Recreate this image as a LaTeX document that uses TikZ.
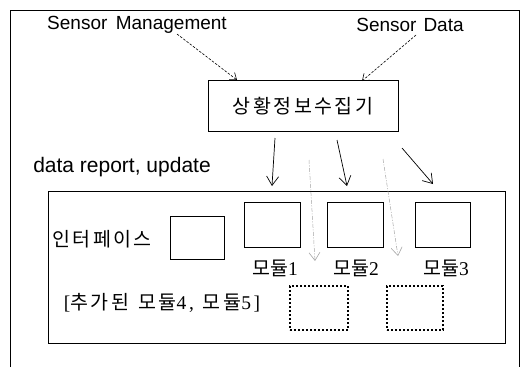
\documentclass[tikz,border=0pt]{standalone}
\usepackage{fontspec}
\setmainfont{Liberation Sans}
\newfontfamily\kr{Noto Sans CJK KR}
\newfontfamily\krw{Noto Sans CJK KR}[LetterSpace=13]
\newfontfamily\dg{Liberation Serif}
\newfontfamily\dgw{Liberation Serif}[LetterSpace=13]
\usetikzlibrary{arrows.meta}
\begin{document}
\begin{tikzpicture}[x=1pt,y=-1pt,
  box/.style={draw,line width=0.7pt,inner sep=0pt},
  dotbox/.style={draw,line width=1.6pt,dash pattern=on 1.6pt off 2.4pt,inner sep=0pt},
  lat/.style={font=\fontsize{19}{22}\selectfont,inner sep=0pt},
  kor/.style={font=\kr\fontsize{19.5}{22}\selectfont,inner sep=0pt},
  korw/.style={font=\krw\fontsize{19.5}{22}\selectfont,inner sep=0pt},
  arr/.style={line width=0.7pt,-{Straight Barb[length=9pt,width=12pt,line width=0.7pt]}},
  darr/.style={line width=0.6pt,dashed,dash pattern=on 2.5pt off 1.5pt,-{Straight Barb[length=6pt,width=9pt,line width=0.6pt]}},
  garr/.style={line width=0.5pt,gray!70,dash pattern=on 4pt off 1.5pt on 1pt off 1.5pt,-{Straight Barb[length=8pt,width=11pt,line width=0.6pt]}}
]
\useasboundingbox (0,0) rectangle (529,367);
% outer frame (open at bottom)
\draw[line width=0.6pt] (10,367) -- (10,10) -- (519,10) -- (519,367);

% labels
\node[lat] (sm) at (137,25) {Sensor\, Management};
\node[lat] (sd) at (410,25) {Sensor\hspace{7pt}Data};
\node[box,minimum width=190pt,minimum height=51pt] (col) at (303,105.5) {};
\node[korw] (coltxt) at (303,106) {상황정보수집기};
\node[lat,font=\fontsize{21}{22}\selectfont] (dr) at (122,167) {data report, update};

% inner box
\node[box,minimum width=457pt,minimum height=152pt] (inner) at (276.5,267) {};
\node[korw] (iftxt) at (102,239) {인터페이스};
\node[box,minimum width=54pt,minimum height=43pt] (iface) at (197,237.5) {};
\node[box,minimum width=56pt,minimum height=45pt] (m1) at (272,224.5) {};
\node[box,minimum width=56pt,minimum height=45pt] (m2) at (355,224.5) {};
\node[box,minimum width=55pt,minimum height=45pt] (m3) at (442.5,224.5) {};
\node[kor] (l1) at (275,268) {모듈{\dg 1}};
\node[kor] (l2) at (356,268) {모듈{\dg 2}};
\node[kor] (l3) at (446,268) {모듈{\dg 3}};
\node[korw] (add) at (162,303) {{\dgw [}추가된\hspace{9pt}모듈{\dgw 4,}\hspace{9pt}모듈{\dgw 5]}};
\node[dotbox,minimum width=58pt,minimum height=44pt] (m4) at (319,308) {};
\node[dotbox,minimum width=56pt,minimum height=44pt] (m5) at (415,308) {};

% coordinates for connector ends
\coordinate (smS) at (177,34);
\coordinate (smE) at (237,80);
\coordinate (sdS) at (416,35);
\coordinate (sdE) at (362,81);
\coordinate (a1s) at (275,138);
\coordinate (a1e) at (272,186);
\coordinate (a2s) at (337,140);
\coordinate (a2e) at (347,186);
\coordinate (a3s) at (402,148);
\coordinate (a3e) at (433,184);
\coordinate (g1s) at (309,160);
\coordinate (g1e) at (315,261);
\coordinate (g2s) at (383,159);
\coordinate (g2e) at (398,256);

\draw[darr] (smS) -- (smE);
\draw[darr] (sdS) -- (sdE);
\draw[arr] (a1s) -- (a1e);
\draw[arr] (a2s) -- (a2e);
\draw[arr] (a3s) -- (a3e);
\draw[garr] (g1s) -- (g1e);
\draw[garr] (g2s) -- (g2e);
\end{tikzpicture}
\end{document}
